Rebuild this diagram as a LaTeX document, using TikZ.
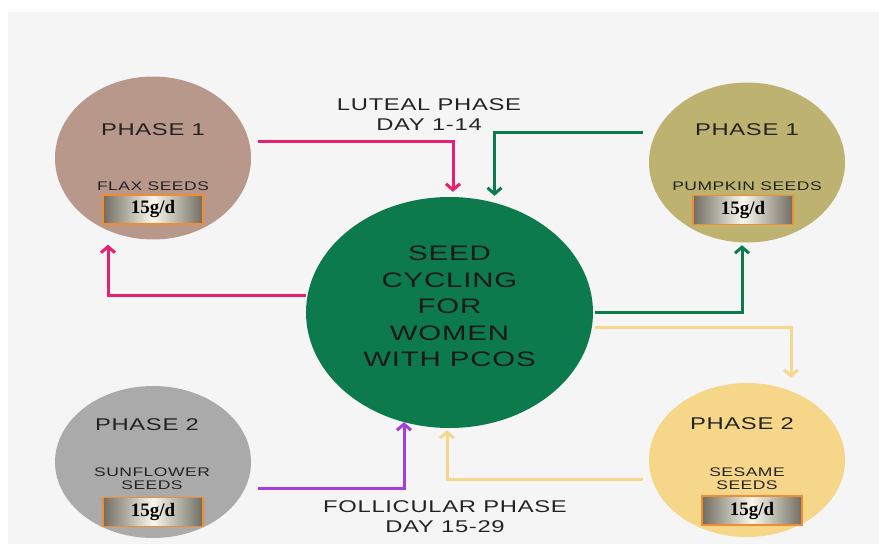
\documentclass[tikz,border=0pt]{standalone}
\usepackage{fontspec}
\setmainfont{Liberation Serif}
\newfontfamily\handfont[FakeStretch=1.4,LetterSpace=4]{Liberation Sans}
\usetikzlibrary{arrows.meta,shapes.geometric,positioning}

\definecolor{bggray}{RGB}{245,245,245}
\definecolor{flaxbrown}{RGB}{184,152,138}
\definecolor{pumpkinolive}{RGB}{190,178,112}
\definecolor{sunflowergray}{RGB}{170,170,170}
\definecolor{sesameyellow}{RGB}{246,214,136}
\definecolor{seedgreen}{RGB}{12,122,76}
\definecolor{lutealpink}{RGB}{232,30,110}
\definecolor{follpurple}{RGB}{165,62,222}
\definecolor{yellowline}{RGB}{245,216,140}
\definecolor{doseorange}{RGB}{240,140,50}
\definecolor{dosedark}{RGB}{112,108,98}
\definecolor{doselight}{RGB}{250,248,236}
\definecolor{inkgray}{RGB}{35,35,35}

\tikzset{
  phasecircle/.style={ellipse, inner sep=0pt, minimum width=196pt},
  phasetext/.style={font=\handfont\fontsize{17}{20}\selectfont, text=inkgray, inner sep=0pt, align=center},
  seedtext/.style={font=\handfont\fontsize{12.5}{13.5}\selectfont, text=inkgray, inner sep=0pt, align=center},
  dosebox/.style={draw=doseorange, line width=1.3pt, left color=dosedark, right color=dosedark,
    middle color=doselight, minimum width=100pt, minimum height=29pt, inner sep=0pt,
    font=\bfseries\fontsize{19}{19}\selectfont},
  cycleline/.style={line width=3pt, ->},
}

\begin{document}
\begin{tikzpicture}[x=1pt, y=-1pt, >={Straight Barb[length=6pt,width=14pt]}]
    \useasboundingbox (0,0) rectangle (879,544);
    \fill[bggray] (8,12) rectangle (879,544);

    % the four seed circles and the middle one
    \node[phasecircle, fill=flaxbrown, minimum height=163pt] (flax) at (153,158) {};
    \node[phasecircle, fill=pumpkinolive, minimum height=160pt] (pumpkin) at (747,162.5) {};
    \node[phasecircle, fill=sunflowergray, minimum height=152pt] (sunflower) at (153,462) {};
    \node[phasecircle, fill=sesameyellow, minimum height=154pt] (sesame) at (747,460) {};
    \node[ellipse, fill=seedgreen, minimum width=287pt, minimum height=231pt, inner sep=0pt] (seed) at (449.5,312.5) {};

    \node[text=black!90, inner sep=0pt, align=center, font=\handfont\fontsize{21}{26.5}\selectfont]
        (seedtitle) at ([yshift=6pt]seed.center) {SEED\\CYCLING\\FOR\\WOMEN\\WITH PCOS};

    % texts in the circles
    \node[phasetext] (flaxphase) at ([yshift=28pt]flax.center) {PHASE 1};
    \node[seedtext] (flaxseeds) at ([yshift=-28pt]flax.center) {FLAX SEEDS};
    \node[dosebox] (flaxdose) at ([yshift=-51.5pt]flax.center) {15g/d};

    \node[phasetext] (pumpkinphase) at ([yshift=32.5pt]pumpkin.center) {PHASE 1};
    \node[seedtext] (pumpkinseeds) at ([yshift=-23.5pt]pumpkin.center) {PUMPKIN SEEDS};
    \node[dosebox] (pumpkindose) at ([shift={(-4pt,-47.5pt)}]pumpkin.center) {15g/d};

    \node[phasetext] (sunflowerphase) at ([shift={(-6pt,37pt)}]sunflower.center) {PHASE 2};
    \node[seedtext] (sunflowerseeds) at ([shift={(-1pt,-16.5pt)}]sunflower.center) {SUNFLOWER\\SEEDS};
    \node[dosebox] (sunflowerdose) at ([yshift=-50pt]sunflower.center) {15g/d};

    \node[phasetext] (sesamephase) at ([shift={(-5pt,36pt)}]sesame.center) {PHASE 2};
    \node[seedtext] (sesameseeds) at ([yshift=-18.5pt]sesame.center) {SESAME\\SEEDS};
    \node[dosebox] (sesamedose) at ([shift={(5pt,-50.5pt)}]sesame.center) {15g/d};

    % phase labels
    \node[phasetext] (luteal) at (429,115) {LUTEAL PHASE\\DAY 1-14};
    \node[phasetext] (follicular) at (445,517) {FOLLICULAR PHASE\\DAY 15-29};

    % connectors
    \draw[cycleline, lutealpink] ([shift={(7pt,17pt)}]flax.east) -| ([shift={(3.5pt,5pt)}]seed.north);
    \draw[cycleline, lutealpink] ([yshift=17.5pt]seed.west) -| ([shift={(-45pt,-5pt)}]flax.south);
    \draw[cycleline, seedgreen] ([shift={(-6pt,30.5pt)}]pumpkin.west) -| ([shift={(45pt,1pt)}]seed.north);
    \draw[cycleline, seedgreen] ([xshift=2pt]seed.east) -| ([shift={(-5pt,-2.5pt)}]pumpkin.south);
    \draw[cycleline, yellowline] ([shift={(2pt,-14.5pt)}]seed.east) -| ([shift={(44pt,5pt)}]sesame.north);
    \draw[cycleline, yellowline] ([shift={(-6pt,-19pt)}]sesame.west) -| ([shift={(-2.5pt,-2pt)}]seed.south);
    \draw[cycleline, follpurple] ([shift={(7pt,-26pt)}]sunflower.east) -| ([shift={(-45.5pt,6pt)}]seed.south);
\end{tikzpicture}
\end{document}
